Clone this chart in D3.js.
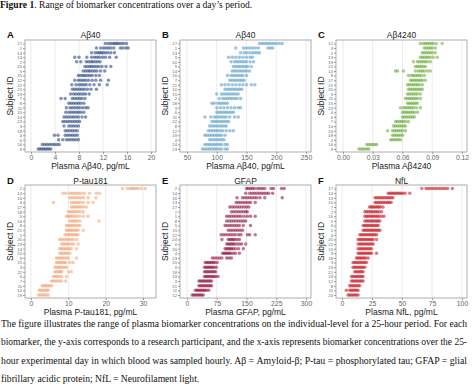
<!DOCTYPE html>
<html>
<head>
<meta charset="utf-8">
<script src="https://cdn.jsdelivr.net/npm/d3@7"></script>
<style>
  body { margin: 0; background: #fff; }
  svg { display: block; }
</style>
</head>
<body>
<div id="chart"></div>
<script>
'use strict';

// ---- data (top row of each panel first) ----
var idsA = [17,1,13,14,2,20,5,15,12,22,21,19,7,8,11,10,24,23,3,18,4,6,16,9];
var valsA = [
  [12.4,12.9,13.3,13.7,14.0,14.3,14.6,15.0,15.4,15.9],
  [10.9,11.6,12.1,12.5,12.9,13.3,13.8,14.9,15.3,15.8,16.2],
  [10.1,10.7,11.1,11.4,11.7,12.0,12.4,12.8,13.3,13.9],
  [7.3,8.0,9.3,10.1,10.6,11.0,11.4,11.9,12.4,13.1,14.2],
  [7.6,8.3,9.2,9.6,10.0,10.3,10.7,11.1,11.5],
  [9.0,9.4,9.8,10.1,10.5,10.9,11.3,11.8,12.5,13.3],
  [8.7,9.1,9.5,9.8,10.2,10.6,11.0,11.6,12.3],
  [7.9,8.3,8.7,9.0,9.4,9.8,10.2,10.8,11.4],
  [7.3,7.9,8.3,8.7,9.1,9.6,10.2,10.8,11.6,12.9],
  [6.8,7.5,8.0,8.4,8.8,9.2,9.8,10.5,11.4,12.7],
  [6.9,7.3,7.7,8.1,8.5,8.9,9.4,10.0,10.9],
  [6.6,7.1,7.5,7.9,8.3,8.7,9.1,9.7],
  [5.0,5.7,6.9,7.3,7.7,8.1,8.5,9.0],
  [6.3,6.7,7.1,7.5,7.9,8.3,8.8],
  [5.9,6.5,6.9,7.3,7.7,8.1,8.6,9.1,9.5],
  [5.8,6.3,6.7,7.1,7.5,7.9,8.3,8.8],
  [5.5,5.9,6.3,6.7,7.1,7.5,7.9,8.5,9.1],
  [5.3,5.7,6.1,6.5,6.9,7.3,7.7,8.1],
  [5.5,6.3,6.7,7.1,7.5,7.9],
  [5.7,6.1,6.5,6.9,7.3,7.7],
  [3.9,4.5,5.7,6.1,6.5,6.9,7.3,7.7],
  [4.6,5.3,5.9,6.3,6.7,7.1,7.5,7.9],
  [1.9,2.3,2.7,3.1,3.5,3.9,4.3,4.7],
  [1.2,1.5,1.8,2.1,2.4,2.7,3.0,3.3]
];
var ticksA = [0,4,8,12,16,20];

var idsB = [17,1,13,9,20,5,14,16,7,21,10,15,2,18,3,6,11,22,8,12,19,4,24,23];
var valsB = [
  [172,176,180,184,188,192,196,200,205,210],
  [132,145,150,155,160,165,170,186,190,194],
  [140,146,150,155,160,164,168,172],
  [120,126,132,138,144,150,156,160],
  [124,130,134,138,142,146,150,156,162],
  [128,132,136,140,144,148,152,158],
  [126,130,134,138,142,146,150,155],
  [118,124,128,132,136,140,144,150],
  [122,126,130,134,138,142,146],
  [108,114,120,126,132,138,144,150,158,164],
  [114,118,122,126,130,134,138,142],
  [100,108,112,116,120,124,128,132,136],
  [104,110,114,118,122,126,130,134,140],
  [92,96,102,106,110,114,118],
  [100,106,112,118,124,130,136,140],
  [100,104,108,112,116,120,124,128],
  [80,90,96,100,104,108,112,116,122,130,136],
  [92,96,100,104,108,112,116,120],
  [88,92,96,100,104,108,112,116],
  [86,90,94,98,102,106,110,116,122,128],
  [80,84,88,92,96,100,104,108,114],
  [88,92,96,100,104,108,112],
  [80,84,88,92,96,100,104,108,114,118],
  [76,80,84,88,92,96,100,104,108,114,118]
];
var ticksB = [50,100,150,200,250];

var idsC = [12,3,1,13,19,22,14,8,17,21,20,5,11,15,23,4,6,7,10,24,18,2,16,9];
var valsC = [
  [0.078,0.081,0.083,0.085,0.087,0.089,0.091,0.094,0.100],
  [0.082,0.084,0.086,0.088,0.090,0.093],
  [0.080,0.082,0.084,0.086,0.088,0.090,0.093],
  [0.078,0.080,0.082,0.084,0.086,0.088,0.091,0.095],
  [0.071,0.075,0.077,0.079,0.081,0.083,0.085,0.088],
  [0.073,0.075,0.077,0.079,0.081,0.083],
  [0.053,0.055,0.061,0.073,0.076,0.078,0.080,0.082,0.085,0.088],
  [0.066,0.069,0.071,0.073,0.075,0.077,0.079,0.082],
  [0.068,0.070,0.072,0.074,0.076,0.078,0.080,0.083],
  [0.065,0.067,0.069,0.071,0.073,0.075,0.077,0.080],
  [0.066,0.068,0.070,0.072,0.074,0.076,0.078,0.080],
  [0.065,0.067,0.069,0.071,0.073,0.075,0.078],
  [0.063,0.065,0.067,0.069,0.071,0.073,0.075,0.078],
  [0.065,0.067,0.069,0.071,0.073,0.075],
  [0.058,0.061,0.063,0.065,0.067,0.069,0.071,0.074,0.078],
  [0.060,0.062,0.064,0.066,0.068,0.070,0.072,0.075],
  [0.060,0.062,0.064,0.066,0.068,0.070,0.072],
  [0.053,0.055,0.057,0.059,0.061,0.063,0.066],
  [0.051,0.053,0.055,0.057,0.059,0.061,0.063],
  [0.045,0.050,0.052,0.054,0.056,0.058,0.060,0.063],
  [0.050,0.052,0.054,0.056,0.058,0.060],
  [0.048,0.050,0.052,0.054,0.056,0.058],
  [0.024,0.026,0.028,0.030,0.032,0.034],
  [0.016,0.018,0.020,0.022,0.024,0.026]
];
var ticksC = [0,0.03,0.06,0.09,0.12];

var idsD = [2,14,16,4,17,18,5,24,8,21,1,20,23,13,10,9,15,3,22,6,7,11,12,19];
var valsD = [
  [24.5,25.8,26.5,27.0,27.5,28.0,28.6,29.5,30.6],
  [8.6,9.4,10.4,11.0,11.6,12.2,12.8,13.5,14.3,15.7,17.5,18.4],
  [10.4,11.0,11.6,12.2,12.8,13.4,14.1,15.3,17.4],
  [6.0,10.8,11.4,12.0,12.6,13.2,14.0,15.3,16.6],
  [10.8,11.3,11.8,12.3,12.8,13.4,14.0,14.8],
  [10.0,10.5,11.0,11.5,12.0,12.6,13.2,14.0],
  [9.5,10.0,10.5,11.0,11.6,12.2,13.0,14.0,15.3],
  [10.4,10.9,11.4,11.9,12.4,13.1,18.2],
  [9.5,10.0,10.5,11.0,11.5,12.0,12.6,13.1],
  [9.5,10.0,10.5,11.0,11.5,12.1,12.6,14.0],
  [9.1,9.6,10.1,10.6,11.1,11.6,12.1,12.6],
  [7.7,8.3,8.9,9.5,10.1,10.7,11.3,12.2],
  [8.2,8.7,9.2,9.7,10.2,10.8,11.4,12.6],
  [7.7,8.2,8.7,9.2,9.7,10.2,10.8,12.2],
  [7.7,8.2,8.7,9.2,9.7,10.4],
  [6.8,7.3,7.8,8.3,8.8,9.4,10.0,12.2],
  [6.8,7.3,7.8,8.3,8.8,9.3,10.4,11.3],
  [6.4,6.9,7.4,7.9,8.4,9.0,9.5],
  [6.4,6.9,7.4,7.9,8.2,10.0,10.8],
  [6.0,6.5,7.0,7.5,8.2,9.5],
  [5.5,6.0,6.5,7.0,7.6,8.2,9.3],
  [3.0,3.5,4.0,4.5,5.0,5.5],
  [2.2,2.7,3.2,3.7,4.2,4.6],
  [2.0,2.5,3.0,3.5,4.0,4.6]
];
var ticksD = [0,10,20,30];

var idsE = [2,14,16,13,17,7,1,8,5,15,22,24,6,20,4,23,10,9,18,19,3,21,11,12];
var valsE = [
  [150,155,160,165,170,178,184,190,196,212,218,238,245],
  [148,158,164,170,176,182,188,194,200,206,216],
  [126,140,146,152,158,164,170,176,184,196,240],
  [124,130,136,142,148,154,160,172],
  [108,114,120,126,132,138,144,150,156],
  [112,118,124,130,136,142,148,152],
  [100,106,112,118,124,130,136,144,152,160,172],
  [100,106,112,118,124,130,136,142,148],
  [96,102,108,114,120,126,132,142,160],
  [104,110,116,122,128,134,140],
  [86,92,98,104,110,116,122,130,136,152,158,172],
  [88,104,108,112,116,120,126,132],
  [100,104,108,112,116,120,126,132,138,148],
  [96,100,104,108,112,116,122,130,142],
  [90,94,98,102,106,110,116,122,132],
  [64,70,76,82,88,100,106,112],
  [46,50,54,58,62,66,70,76],
  [44,48,52,56,60,64,68,74],
  [44,48,52,56,60,64,68,72],
  [44,48,52,56,60,64,68,72,78],
  [30,34,38,42,46,50,54,58,62],
  [30,34,38,42,46,50,54,58,62],
  [21,25,29,33,37,41,45,49,55],
  [13,17,21,25,29,33,37,41]
];
var ticksE = [0,75,150,225,300];

var idsF = [17,14,13,10,7,2,16,5,6,1,4,20,22,15,9,18,3,23,21,19,12,8,11,24];
var valsF = [
  [66.5,70,72,74,76,78,80,82,84,86,88,92],
  [38.5,40,41.5,43,44.5,46,47.5,49,50.5,52.5,56.5],
  [27.5,29,30.5,32,33.5,35,36.5,38,39.5,41,42.5],
  [27.5,29,30.5,32,33.5,35,36.5,38,39.5,41],
  [23,24.3,25.6,26.9,28.2,29.5,30.8,32.1,34.2],
  [19,20.5,22,23.5,25,26.5,28,29.5,31,33],
  [19,20.5,22,23.5,25,26.5,28,29.5,31,33,35],
  [19,20.4,21.8,23.2,24.6,26,27.4,28.8,30,31.5],
  [17.6,19,20.4,21.8,23.2,24.6,26,27.4,28.8,30.2],
  [17.6,19,20.4,21.8,23.2,24.6,26,27.4,28.8,30.2,31.6],
  [14.8,16.2,17.6,19,20.4,21.8,23.2,24.6,26,27.4,28.8],
  [13.4,14.8,16.2,17.6,19,20.4,21.8,23.2,24.6,26,28.8],
  [13.4,14.8,16.2,17.6,19,20.4,21.8,23.2,24.6,26],
  [13.4,14.8,16.2,17.6,19,20.4,21.8,23.2,24.6],
  [13.4,14.8,16.2,17.6,19,20.4,21.8,23.2,24.6,28.8],
  [12,13.3,14.6,15.9,17.2,18.5,19.8,21.8],
  [9.2,10.6,12,13.4,14.8,16.2,17.6,19,20.4],
  [9.2,10.6,12,13.4,14.8,16.2,17.6,19],
  [10.6,12,13.4,14.8,16.2,17.6],
  [7.8,9.2,10.6,12,13.4,14.8,16.2,17.6],
  [7.8,9.2,10.6,12,13.4,14.8,16.2,17.6],
  [6.4,7.8,9.2,10.6,12,13.4,14.8],
  [3.6,6.4,7.8,9.2,10.6,12,13.4],
  [5,6.4,7.8,9.2,10.6,12,13.4]
];
var ticksF = [0,25,50,75,100];

var panelTitles = ['A\u03b240', 'A\u03b240', 'A\u03b24240', 'P-tau181', 'GFAP', 'NfL'];
var panelLetters = ['A', 'B', 'C', 'D', 'E', 'F'];
var xTitles = ['Plasma A\u03b240, pg/mL', 'Plasma A\u03b240, pg/mL', 'Plasma A\u03b24240',
               'Plasma P-tau181, pg/mL', 'Plasma GFAP, pg/mL', 'Plasma NfL, pg/mL'];

var captionLines = [
  'The figure illustrates the range of plasma biomarker concentrations on the individual-level for a 25-hour period. For each',
  'biomarker, the y-axis corresponds to a research participant, and the x-axis represents biomarker concentrations over the 25-',
  'hour experimental day in which blood was sampled hourly. A\u03b2 = Amyloid-\u03b2; P-tau = phosphorylated tau; GFAP = glial',
  'fibrillary acidic protein; NfL = Neurofilament light.'
];

// ---- layout ----
var fig = {};
fig.w = 474;
fig.h = 391;
fig.rows = [
  {top: 40, bottom: 152, y0: 43.5, y1: 149, titleY: 35},
  {top: 185, bottom: 298, y0: 188.5, y1: 295, titleY: 181}
];
fig.cols = [
  {left: 25, right: 156},
  {left: 180, right: 311},
  {left: 336, right: 467}
];
// x position of the first/last tick in each panel
fig.xRanges = [[31,151],[187,306],[343,462],[31,143],[187,306],[342,462]];
fig.colors = ['#1d3b78', '#4f97c0', '#62a832', '#eea070', '#8a0a38', '#c40c18'];
fig.sans = '"Liberation Sans", Arial, sans-serif';
fig.serif = '"Liberation Serif", "Times New Roman", serif';

fig.panels = [
  {ids: idsA, vals: valsA, ticks: ticksA, fmt: d3.format('d')},
  {ids: idsB, vals: valsB, ticks: ticksB, fmt: d3.format('d')},
  {ids: idsC, vals: valsC, ticks: ticksC, fmt: d3.format('.2f')},
  {ids: idsD, vals: valsD, ticks: ticksD, fmt: d3.format('d')},
  {ids: idsE, vals: valsE, ticks: ticksE, fmt: d3.format('d')},
  {ids: idsF, vals: valsF, ticks: ticksF, fmt: d3.format('d')}
];

fig.drawPanel = function (svg, p, i)
{
  var row = fig.rows[Math.floor(i / 3)];
  var col = fig.cols[i % 3];
  var color = fig.colors[i];
  var g = svg.append('g').attr('class', 'panel');

  var x = d3.scaleLinear()
    .domain([p.ticks[0], p.ticks[p.ticks.length - 1]])
    .range(fig.xRanges[i]);
  var y = d3.scalePoint()
    .domain(p.ids.map(String))
    .range([row.y0, row.y1]);

  // grid
  g.selectAll('line.grid').data(p.ticks).enter()
    .append('line')
    .attr('class', 'grid')
    .attr('x1', function (d) { return x(d); })
    .attr('x2', function (d) { return x(d); })
    .attr('y1', row.top)
    .attr('y2', row.bottom)
    .attr('stroke', '#e3e3e3')
    .attr('stroke-width', 0.7);

  // points
  var pts = [];
  p.ids.forEach(function (id, k) {
    p.vals[k].forEach(function (v) { pts.push({id: String(id), v: v}); });
  });
  g.selectAll('circle').data(pts).enter()
    .append('circle')
    .attr('cx', function (d) { return x(d.v); })
    .attr('cy', function (d) { return y(d.id); })
    .attr('r', 1.75)
    .attr('fill', color)
    .attr('fill-opacity', 0.55);

  // box
  g.append('rect')
    .attr('x', col.left)
    .attr('y', row.top)
    .attr('width', col.right - col.left)
    .attr('height', row.bottom - row.top)
    .attr('fill', 'none')
    .attr('stroke', '#9a9a9a')
    .attr('stroke-width', 0.8);

  // axes
  var xAxis = d3.axisBottom(x).tickValues(p.ticks).tickFormat(p.fmt).tickSize(2).tickPadding(1.5);
  var xg = g.append('g')
    .attr('transform', 'translate(0,' + row.bottom + ')')
    .call(xAxis);
  xg.select('.domain').remove();
  xg.selectAll('line').attr('stroke', '#9a9a9a');
  xg.selectAll('text')
    .attr('font-family', fig.sans)
    .attr('font-size', 6.8)
    .attr('fill', '#666');

  var yAxis = d3.axisLeft(y).tickSize(2).tickPadding(1);
  var yg = g.append('g')
    .attr('transform', 'translate(' + col.left + ',0)')
    .call(yAxis);
  yg.select('.domain').remove();
  yg.selectAll('line').attr('stroke', '#9a9a9a');
  yg.selectAll('text')
    .attr('font-family', fig.sans)
    .attr('font-size', 4.2)
    .attr('fill', '#666');

  var cx = (col.left + col.right) / 2;
  var cy = (row.top + row.bottom) / 2;

  // titles
  g.append('text')
    .attr('x', cx)
    .attr('y', row.titleY)
    .attr('dy', '0.35em')
    .attr('text-anchor', 'middle')
    .attr('font-family', fig.sans)
    .attr('font-size', 8.5)
    .attr('fill', '#222')
    .text(panelTitles[i]);
  g.append('text')
    .attr('x', col.left - 18)
    .attr('y', row.titleY)
    .attr('dy', '0.35em')
    .attr('font-family', fig.sans)
    .attr('font-weight', 'bold')
    .attr('font-size', 9.5)
    .attr('fill', '#111')
    .text(panelLetters[i]);
  g.append('text')
    .attr('x', cx)
    .attr('y', row.bottom + 14)
    .attr('dy', '0.35em')
    .attr('text-anchor', 'middle')
    .attr('font-family', fig.sans)
    .attr('font-size', 8.5)
    .attr('fill', '#222')
    .text(xTitles[i]);
  g.append('text')
    .attr('transform', 'translate(' + (col.left - 15) + ',' + cy + ') rotate(-90)')
    .attr('dy', '0.35em')
    .attr('text-anchor', 'middle')
    .attr('font-family', fig.sans)
    .attr('font-size', 8.5)
    .attr('fill', '#222')
    .text('Subject ID');
};

fig.drawText = function (svg)
{
  var t = svg.append('text')
    .attr('x', 0)
    .attr('y', 8)
    .attr('font-family', fig.serif)
    .attr('font-size', 9.6)
    .attr('fill', '#111');
  t.append('tspan').attr('font-weight', 'bold').text('Figure 1');
  t.append('tspan').text('. Range of biomarker concentrations over a day\u2019s period.');

  var ys = [327, 345, 364, 382];
  captionLines.forEach(function (line, k) {
    var el = svg.append('text')
      .attr('x', 1)
      .attr('y', ys[k])
      .attr('font-family', fig.serif)
      .attr('font-size', 9.6)
      .attr('fill', '#111')
      .text(line);
    if (k < captionLines.length - 1) {
      el.attr('textLength', 466).attr('lengthAdjust', 'spacingAndGlyphs');
    }
  });
};

var svg = d3.select('#chart').append('svg')
  .attr('width', fig.w)
  .attr('height', fig.h);
svg.append('rect').attr('width', fig.w).attr('height', fig.h).attr('fill', '#fff');
fig.panels.forEach(function (p, i) { fig.drawPanel(svg, p, i); });
fig.drawText(svg);
</script>
</body>
</html>
